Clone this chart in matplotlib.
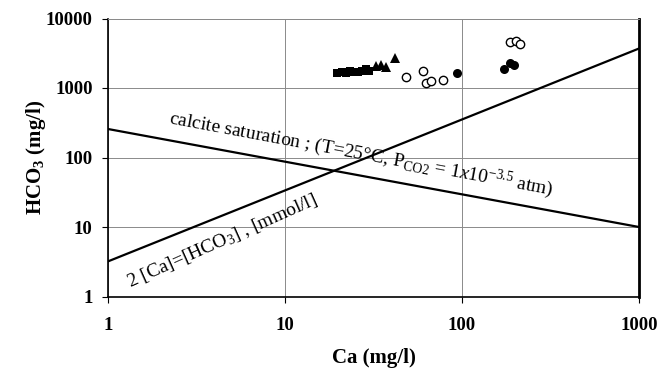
import matplotlib
matplotlib.use("Agg")
import matplotlib.pyplot as plt
import numpy as np

plt.rcParams['font.family'] = ['Liberation Serif', 'DejaVu Serif']
plt.rcParams['mathtext.fontset'] = 'custom'
plt.rcParams['mathtext.rm'] = 'Liberation Serif'
plt.rcParams['mathtext.it'] = 'Liberation Serif:italic'
plt.rcParams['mathtext.bf'] = 'Liberation Serif:bold'

# --- data ---
sq_ca = [19.7, 21.1, 22.2, 23.4, 24.6, 26.0, 27.4, 28.5, 30.0]
sq_hco3 = [1640, 1700, 1640, 1760, 1700, 1700, 1760, 1870, 1760]

tri_ca = [32.5, 34.7, 37.0, 41.7]
tri_hco3 = [2070, 2150, 2000, 2700]

open_ca = [48.2, 60.2, 62.7, 66.9, 78.3, 186, 202, 212]
open_hco3 = [1440, 1760, 1180, 1260, 1300, 4590, 4750, 4300]

fill_ca = [94.2, 172, 186, 196]
fill_hco3 = [1640, 1870, 2290, 2150]

eq_ca = [1, 1000]
eq_hco3 = [3.2, 3700]

sat_ca = [1, 1000]
sat_hco3 = [257, 10]

xticks = [1, 10, 100, 1000]
yticks = [1, 10, 100, 1000, 10000]

fig = plt.figure(figsize=(6.6, 3.74), dpi=100)
ax = fig.add_axes([108/660, 1-296.5/374, (639-108)/660, (296.5-18.5)/374])
ax.set_xscale('log')
ax.set_yscale('log')
ax.set_xlim(1, 1000)
ax.set_ylim(1, 10000)

ax.grid(True, which='major', color='#8a8a8a', lw=0.7)
ax.set_axisbelow(True)

ax.plot(eq_ca, eq_hco3, color='black', lw=1.6)
ax.plot(sat_ca, sat_hco3, color='black', lw=1.6)

ax.plot(sq_ca, sq_hco3, 's', color='black', ms=5.5, mew=0)
ax.plot(tri_ca, tri_hco3, '^', color='black', ms=6.5, mew=0)
ax.plot(open_ca, open_hco3, 'o', mfc='white', mec='black', ms=6, mew=1.0)
ax.plot(fill_ca, fill_hco3, 'o', color='black', ms=6.5, mew=0)

ax.set_xticks(xticks)
ax.set_xticklabels([str(v) for v in xticks])
ax.set_yticks(yticks)
ax.set_yticklabels([str(v) for v in yticks])
ax.minorticks_off()
ax.tick_params(axis='both', which='major', length=4, width=0.8, direction='out',
               labelsize=13.5)
ax.tick_params(axis='x', pad=11)
ax.tick_params(axis='y', pad=7)
for lab in ax.get_xticklabels() + ax.get_yticklabels():
    lab.set_fontweight('bold')

for s in ['left', 'bottom', 'right']:
    ax.spines[s].set_color('black')
    ax.spines[s].set_linewidth(1.2)
ax.spines['right'].set_linewidth(2.0)
ax.spines['top'].set_color('#8a8a8a')
ax.spines['top'].set_linewidth(0.7)

ax.set_xlabel('Ca (mg/l)', fontsize=15, fontweight='bold', labelpad=10)
ax.set_ylabel(r'HCO$_\mathbf{3}$ (mg/l)', fontsize=15, fontweight='bold')
ax.yaxis.set_label_coords(-0.113, 0.5)

ax.text(2.18, 314,
        r'calcite saturation ; (T=25°C, P$_{\rm CO2}$ = $\it{1x10}^{-3.5}$ atm)',
        fontsize=14, rotation=-10.6, rotation_mode='anchor', ha='left', va='baseline',
        transform=ax.transData)
ax.text(1.33, 1.33, r'2 [Ca]=[HCO$_3$] , [mmol/l]',
        fontsize=14, rotation=24, rotation_mode='anchor', ha='left', va='baseline',
        transform=ax.transData)

fig.savefig('out.png', dpi=100)
